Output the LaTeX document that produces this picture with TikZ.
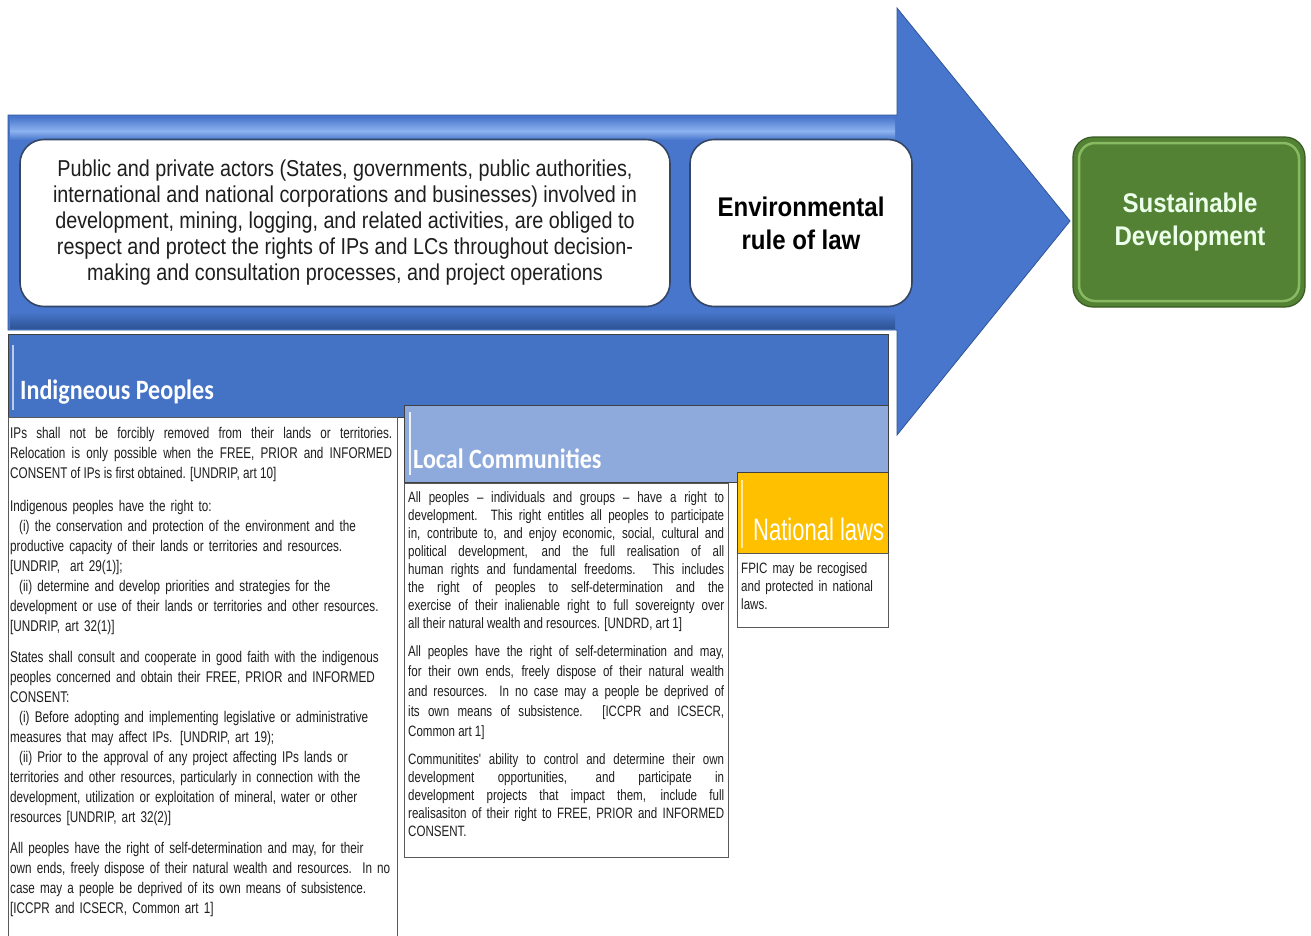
\documentclass[tikz,border=0pt]{standalone}
\usepackage{fontspec}
\setmainfont{Liberation Sans}
\newfontfamily\topfont[FakeStretch=0.86]{Liberation Sans}
\newfontfamily\titlefont[FakeStretch=0.89]{Liberation Sans}
\newfontfamily\nlfont[FakeStretch=0.71]{Liberation Sans}
\newfontfamily\bodyfont[FakeStretch=0.77]{Liberation Sans}
\newfontfamily\ipfont[FakeStretch=0.755]{Liberation Sans}
\newfontfamily\headfont[FakeStretch=0.86]{Carlito}
\usetikzlibrary{shadings}

\definecolor{arrowblue}{RGB}{72,118,204}
\definecolor{arrowdark}{RGB}{47,85,151}
\definecolor{arrowlight}{RGB}{140,178,240}
\definecolor{boxedge}{RGB}{52,70,100}
\definecolor{hdblue}{RGB}{68,114,196}
\definecolor{hdlight}{RGB}{142,169,219}
\definecolor{hdyellow}{RGB}{255,192,0}
\definecolor{sdgreen}{RGB}{84,130,53}
\definecolor{sdrim}{RGB}{150,200,110}
\definecolor{sddark}{RGB}{56,90,34}
\definecolor{txtgray}{RGB}{30,30,30}

\tikzset{
  whitebox/.style={draw=boxedge, line width=1.6pt, fill=white, rounded corners=24pt},
  header/.style={draw=black!75, line width=0.8pt},
  contentbox/.style={draw=black!65, line width=1.1pt, fill=white},
  hdtitle/.style={anchor=west, inner sep=0pt, text=white},
  para/.style={anchor=north west, inner sep=0pt, text=txtgray, align=justify},
}

\begin{document}
\begin{tikzpicture}[x=1pt,y=-1pt]
\useasboundingbox (0,0) rectangle (1311,935);
\fill[white] (0,0) rectangle (1311,935);

% big arrow
\fill[arrowblue, draw=arrowdark, line width=0.8pt]
  (8,115) -- (897,115) -- (897,8) -- (1070,221) -- (897,435) -- (897,330) -- (8,330) -- cycle;
% bevel highlight and shade on the shaft
\shade[top color=arrowblue, bottom color=arrowlight] (10,117) rectangle (895,131);
\shade[top color=arrowlight, bottom color=arrowblue] (10,131) rectangle (895,140);
\shade[top color=arrowblue, bottom color=arrowdark] (10,312) rectangle (895,328);

% white boxes on the arrow
\node[whitebox, minimum width=650pt, minimum height=167pt] (actors) at (345,223) {};
\node[align=center, inner sep=0pt, font=\topfont\fontsize{23}{26}\selectfont, text=txtgray] (actorstxt) at (345,223)
  {Public and private actors (States, governments, public authorities,\\
   international and national corporations and businesses) involved in\\
   development, mining, logging, and related activities, are obliged to\\
   respect and protect the rights of IPs and LCs throughout decision-\\
   making and consultation processes, and project operations};
\node[whitebox, minimum width=222pt, minimum height=167pt] (erl) at (801,223) {};
\node[align=center, inner sep=0pt, font=\titlefont\bfseries\fontsize{27}{33}\selectfont, text=black] (erltxt) at (801,223)
  {Environmental\\rule of law};

% sustainable development
\node[draw=sddark, line width=1.2pt, fill=sdgreen, rounded corners=20pt, minimum width=232pt, minimum height=170pt] (sd) at (1189,222) {};
\draw[sdrim, line width=2.5pt, rounded corners=16pt, opacity=0.8] (1079,143) rectangle (1299,301);
\node[align=center, inner sep=0pt, font=\titlefont\bfseries\fontsize{27}{33}\selectfont, text=white!92!green] (sdtxt) at (1190,222)
  {Sustainable\\Development};

% Indigenous peoples
\fill[hdblue, header] (8,334) rectangle (888,417);
\draw[hdlight!60!white, line width=1.5pt] (13,345) -- (13,410);
\node[hdtitle, font=\headfont\bfseries\fontsize{28}{30}\selectfont] (iphead) at (20,392) {Indigneous Peoples};
\node[contentbox, anchor=north west, minimum width=389pt, minimum height=525pt] (ipbox) at (8,417) {};

\node[para, text width=382pt, font=\ipfont\fontsize{15.5}{20}\selectfont] (ip1) at (10,427)
  {IPs shall not be forcibly removed from their lands or territories.\linebreak
   Relocation is only possible when the FREE, PRIOR and INFORMED\linebreak
   CONSENT of IPs is first obtained. [UNDRIP, art 10]};
\node[para, text width=392pt, align=left, font=\ipfont\fontsize{15.5}{20}\selectfont] (ip2) at (10,500)
  {Indigenous peoples have the right to:\\
   \hspace*{9pt}(i) the conservation and protection of the environment and the\\
   productive capacity of their lands or territories and resources.\\
   {[}UNDRIP,\hspace*{10pt}art 29(1)];\\
   \hspace*{9pt}(ii) determine and develop priorities and strategies for the\\
   development or use of their lands or territories and other resources.\\
   {[}UNDRIP, art 32(1)]};
\node[para, text width=392pt, align=left, font=\ipfont\fontsize{15.5}{20}\selectfont] (ip3) at (10,651)
  {States shall consult and cooperate in good faith with the indigenous\\
   peoples concerned and obtain their FREE, PRIOR and INFORMED\\
   CONSENT:\\
   \hspace*{9pt}(i) Before adopting and implementing legislative or administrative\\
   measures that may affect IPs. [UNDRIP, art 19);\\
   \hspace*{9pt}(ii) Prior to the approval of any project affecting IPs lands or\\
   territories and other resources, particularly in connection with the\\
   development, utilization or exploitation of mineral, water or other\\
   resources [UNDRIP, art 32(2)]};
\node[para, text width=392pt, align=left, font=\ipfont\fontsize{15.5}{20}\selectfont] (ip4) at (10,842)
  {All peoples have the right of self-determination and may, for their\\
   own ends, freely dispose of their natural wealth and resources.~~In~no\\
   case may a people be deprived of its own means of subsistence.\\
   {[}ICCPR and ICSECR, Common art 1]};

% Local communities
\fill[hdlight, header] (404,405) rectangle (888,482);
\draw[white!85!hdlight, line width=1.5pt] (410,412) -- (410,475);
\node[hdtitle, font=\headfont\bfseries\fontsize{28}{30}\selectfont] (lchead) at (413,459) {Local Communities};
\node[contentbox, anchor=north west, minimum width=324pt, minimum height=374pt] (lcbox) at (404,483) {};

\node[para, text width=316pt, font=\bodyfont\fontsize{15}{18}\selectfont] (lc1) at (408,491)
  {All peoples – individuals and groups – have a right to\linebreak
   development. This right entitles all peoples to participate\linebreak
   in, contribute to, and enjoy economic, social, cultural and\linebreak
   political development, and the full realisation of all\linebreak
   human rights and fundamental freedoms. This includes\linebreak
   the right of peoples to self-determination and the\linebreak
   exercise of their inalienable right to full sovereignty over\linebreak
   all their natural wealth and resources. [UNDRD, art 1]};
\node[para, text width=316pt, font=\bodyfont\fontsize{15}{20}\selectfont] (lc2) at (408,645)
  {All peoples have the right of self-determination and may,\linebreak
   for their own ends, freely dispose of their natural wealth\linebreak
   and resources.\ \ In no case may a people be deprived of\linebreak
   its own means of subsistence. [ICCPR and ICSECR,\linebreak
   Common art 1]};
\node[para, text width=316pt, font=\bodyfont\fontsize{15}{18}\selectfont] (lc3) at (408,753)
  {Communitites' ability to control and determine their own\linebreak
   development opportunities, and participate in\linebreak
   development projects that impact them, include full\linebreak
   realisasiton of their right to FREE, PRIOR and INFORMED\linebreak
   CONSENT.};

% National laws
\fill[hdyellow, header] (737,472) rectangle (888,553);
\draw[hdyellow!35!white, line width=1.5pt] (742,480) -- (742,548);
\node[hdtitle, font=\nlfont\fontsize{31}{33}\selectfont] (nlhead) at (753,529) {National laws};
\node[contentbox, anchor=north west, minimum width=151pt, minimum height=74pt] (nlbox) at (737,553) {};
\node[para, text width=144pt, align=left, font=\bodyfont\fontsize{15}{18}\selectfont] (nl1) at (741,562)
  {FPIC may be recogised\\ and protected in national\\ laws.};
\end{tikzpicture}
\end{document}
